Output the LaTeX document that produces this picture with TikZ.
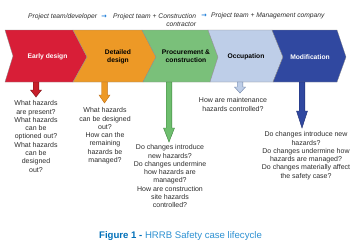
\documentclass[tikz,border=0pt]{standalone}
\usepackage{fontspec}
\setmainfont{Liberation Sans}
\newfontfamily\arrowfont{DejaVu Sans}
\usetikzlibrary{positioning, calc}
\definecolor{myRed}{RGB}{216,30,55}
\definecolor{myOrange}{RGB}{237,153,38}
\definecolor{myGreen}{RGB}{122,192,122}
\definecolor{myPale}{RGB}{190,206,232}
\definecolor{myNavy}{RGB}{48,72,160}
\definecolor{myText}{RGB}{45,45,45}
\definecolor{myLink}{RGB}{20,120,215}
\definecolor{capDark}{RGB}{0,112,185}
\definecolor{capLight}{RGB}{45,145,210}

\begin{document}
\begin{tikzpicture}[x=1pt, y=-1pt,
  band/.style={draw=black!45, line width=0.3pt},
  lbl/.style={font=\fontsize{6.7}{7.8}\selectfont\bfseries, align=center, inner sep=0pt},
  q/.style={font=\fontsize{7}{8.3}\selectfont, align=center, anchor=north, inner sep=0pt, text=myText},
  hdr/.style={font=\fontsize{6.7}{8.4}\selectfont\itshape, inner sep=0pt, text=myText},
  go/.style={font=\arrowfont\bfseries\fontsize{6.5}{7}\selectfont, inner sep=0pt, text=myLink},
  blockarrow/.style={line width=0.4pt, to path={
    -- ($(\tikztostart)+(-2.8,0)$) -- ($(\tikztotarget)+(-2.8,-#1)$)
    -- ($(\tikztotarget)+(-5.5,-#1)$) -- (\tikztotarget)
    -- ($(\tikztotarget)+(5.5,-#1)$) -- ($(\tikztotarget)+(2.8,-#1)$)
    -- ($(\tikztostart)+(2.8,0)$) -- cycle}},
]
  \fill[white] (0,0) rectangle (350,250);
  \useasboundingbox (0,0) rectangle (350,250);

  % who is in charge
  \node[hdr, anchor=north west] (who1) at (28,13) {Project team/developer};
  \node[go, right=4pt of who1] (go1) {→};
  \node[hdr, anchor=north west, align=right] (who2) at (113,13)
    {Project team + Construction\\contractor};
  \node[go] (go2) at (204,16) {→};
  \node[hdr, right=4pt of go2] (who3) {Project team + Management company};

  % the stages
  \draw[band, fill=myRed]    (5,30) -- (73,30) -- (87,57) -- (73,82) -- (5,82) -- (13,56) -- cycle;
  \draw[band, fill=myOrange] (73,30) -- (142,30) -- (156,57) -- (143,82) -- (73,82) -- (87,57) -- cycle;
  \draw[band, fill=myGreen]  (142,30) -- (208,30) -- (218,57) -- (210,82) -- (143,82) -- (156,57) -- cycle;
  \draw[band, fill=myPale]   (208,30) -- (272,30) -- (283,57) -- (273,82) -- (210,82) -- (218,57) -- cycle;
  \draw[band, fill=myNavy]   (272,30) -- (337,30) -- (346,57) -- (337,82) -- (273,82) -- (283,57) -- cycle;

  \node[lbl, text=white] (early) at (47.5,57) {Early design};
  \node[lbl] (detail) at (118,57) {Detailed\\design};
  \node[lbl] (procure) at (186,56) {Procurement \&\\construction};
  \node[lbl] (occup) at (246,57) {Occupation};
  \node[lbl, text=white] (modif) at (310,57) {Modification};

  % questions
  \node[q] (qearly) at (36,100.5)
    {What hazards\\are present?\\What hazards\\can be\\optioned out?\\What hazards\\can be\\designed\\out?};
  \node[q] (qdetail) at (105,107.5)
    {What hazards\\can be designed\\out?\\How can the\\remaining\\hazards be\\managed?};
  \node[q] (qprocure) at (170,144.5)
    {Do changes introduce\\new hazards?\\Do changes undermine\\how hazards are\\managed?\\How are construction\\site hazards\\controlled?};
  \node[q] (qoccup) at (233,97.5)
    {How are maintenance\\hazards controlled?};
  \node[q] (qmodif) at (306,131.5)
    {Do changes introduce new\\hazards?\\Do changes undermine how\\hazards are managed?\\Do changes materially affect\\the safety case?};

  % arrows down to the questions
  \coordinate (r0) at (36,82);    \coordinate (r1) at (36,97);
  \coordinate (o0) at (104.5,82); \coordinate (o1) at (104.5,103);
  \coordinate (g0) at (169,82);   \coordinate (g1) at (169,142);
  \coordinate (p0) at (240,82);   \coordinate (p1) at (240,93);
  \coordinate (n0) at (302,82);   \coordinate (n1) at (302,128);
  \draw[blockarrow=7, fill={rgb,255:red,200;green,30;blue,42}, draw={rgb,255:red,120;green,20;blue,25}] (r0) to (r1);
  \draw[blockarrow=8, fill=myOrange, draw={rgb,255:red,190;green,110;blue,20}] (o0) to (o1);
  \draw[blockarrow=14, fill={rgb,255:red,110;green,190;blue,110}, draw={rgb,255:red,60;green,130;blue,60}] (g0) to (g1);
  \draw[blockarrow=6, fill=myPale, draw={rgb,255:red,110;green,130;blue,165}] (p0) to (p1);
  \draw[blockarrow=17, fill=myNavy, draw={rgb,255:red,30;green,45;blue,110}] (n0) to (n1);

  \node[font=\fontsize{9.6}{11}\selectfont, inner sep=0pt] (caption) at (180.5,236)
    {\textcolor{capDark}{\bfseries Figure 1 -} \textcolor{capLight}{HRRB Safety case lifecycle}};
\end{tikzpicture}
\end{document}
